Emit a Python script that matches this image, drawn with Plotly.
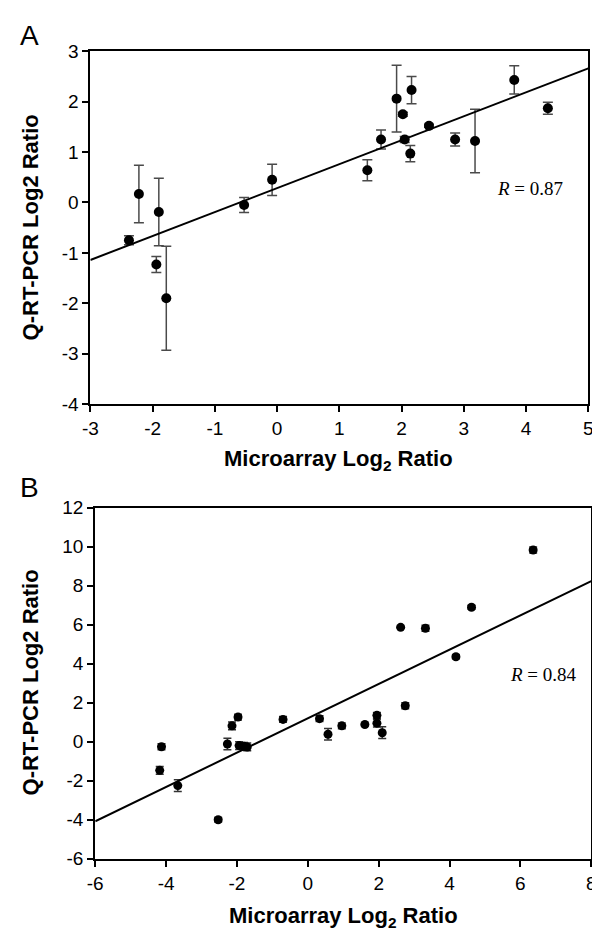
import plotly.graph_objects as go

# ---------------- Panel A data ----------------
a_x = [-2.38, -2.22, -1.94, -1.90, -1.78, -0.53, -0.08, 1.45, 1.67, 1.92, 2.02, 2.05,
       2.16, 2.14, 2.44, 2.86, 3.18, 3.81, 4.35]
a_y = [-0.75, 0.17, -1.23, -0.19, -1.90, -0.05, 0.45, 0.64, 1.25, 2.06, 1.75, 1.25,
       2.23, 0.97, 1.52, 1.25, 1.22, 2.43, 1.87]
a_err = [0.09, 0.57, 0.16, 0.67, 1.03, 0.15, 0.31, 0.21, 0.19, 0.66, 0.04, 0.06,
         0.27, 0.16, 0.03, 0.13, 0.63, 0.28, 0.12]
a_slope, a_intercept = 0.475, 0.285
a_r_text = "<i>R</i> = 0.87"
a_xticks = [-3, -2, -1, 0, 1, 2, 3, 4, 5]
a_yticks = [-4, -3, -2, -1, 0, 1, 2, 3]

# ---------------- Panel B data ----------------
b_x = [-4.13, -4.18, -3.67, -2.53, -2.27, -2.14, -1.97, -1.94, -1.80, -1.71, -0.70,
       0.33, 0.57, 0.96, 1.61, 1.95, 1.95, 2.10, 2.75, 2.62, 3.32, 4.18, 4.62, 6.36]
b_y = [-0.26, -1.47, -2.25, -4.00, -0.12, 0.81, 1.26, -0.20, -0.24, -0.27, 1.14,
       1.18, 0.38, 0.81, 0.88, 1.35, 0.95, 0.46, 1.84, 5.86, 5.81, 4.35, 6.89, 9.82]
b_err = [0.15, 0.2, 0.3, 0.12, 0.3, 0.2, 0.15, 0.2, 0.2, 0.2, 0.15,
         0.15, 0.3, 0.15, 0.05, 0.15, 0.2, 0.3, 0.15, 0.05, 0.15, 0.1, 0.1, 0.15]
b_slope, b_intercept = 0.879, 1.196
b_r_text = "<i>R</i> = 0.84"
b_xticks = [-6, -4, -2, 0, 2, 4, 6, 8]
b_yticks = [-6, -4, -2, 0, 2, 4, 6, 8, 10, 12]

a_xrange, a_yrange = [-3, 5], [-4, 3]
b_xrange, b_yrange = [-6, 8], [-6, 12]

W, H = 600, 939
fig = go.Figure()

fig.add_trace(go.Scatter(
    x=a_x, y=a_y, mode="markers", xaxis="x", yaxis="y",
    marker=dict(color="black", size=10),
    error_y=dict(type="data", array=a_err, visible=True, color="#4a4a4a", thickness=1.5, width=5),
    showlegend=False))
fig.add_trace(go.Scatter(
    x=a_xrange, y=[a_slope * v + a_intercept for v in a_xrange], mode="lines",
    xaxis="x", yaxis="y", line=dict(color="black", width=2), showlegend=False))

fig.add_trace(go.Scatter(
    x=b_x, y=b_y, mode="markers", xaxis="x2", yaxis="y2",
    marker=dict(color="black", size=9),
    error_y=dict(type="data", array=b_err, visible=True, color="#333333", thickness=1.5, width=4),
    showlegend=False))
fig.add_trace(go.Scatter(
    x=b_xrange, y=[b_slope * v + b_intercept for v in b_xrange], mode="lines",
    xaxis="x2", yaxis="y2", line=dict(color="black", width=2), showlegend=False))

tickfont = dict(family="Liberation Sans, Arial, sans-serif", size=19, color="black")
axis_common = dict(showgrid=False, zeroline=False, showline=True, linecolor="black",
                   linewidth=2, mirror=True, ticks="outside", ticklen=6, tickwidth=1.5,
                   tickcolor="black", tickfont=tickfont, fixedrange=True,
                   ticklabeloverflow="allow")


def ticks(vals):
    return dict(tickmode="array", tickvals=vals, ticktext=[str(v) for v in vals])


fig.update_layout(
    width=W, height=H, margin=dict(l=0, r=0, t=0, b=0),
    paper_bgcolor="white", plot_bgcolor="white",
    xaxis=dict(domain=[76 / W, 585 / W], range=a_xrange, anchor="y", **ticks(a_xticks), **axis_common),
    yaxis=dict(domain=[1 - 395 / H, 1 - 34 / H], range=a_yrange, anchor="x", **ticks(a_yticks), **axis_common),
    xaxis2=dict(domain=[81 / W, 588 / W], range=b_xrange, anchor="y2", **ticks(b_xticks), **axis_common),
    yaxis2=dict(domain=[1 - 860 / H, 1 - 500.7 / H], range=b_yrange, anchor="x2", **ticks(b_yticks), **axis_common),
)

titlefont = dict(family="Liberation Sans, Arial, sans-serif", size=22, color="black")
annots = [
    dict(text="<b>Microarray Log<sub>2</sub> Ratio</b>", x=330 / W, y=1 - 452 / H,
         xref="paper", yref="paper", showarrow=False, font=titlefont, xanchor="center", yanchor="middle"),
    dict(text="<b>Microarray Log<sub>2</sub> Ratio</b>", x=335 / W, y=1 - 920 / H,
         xref="paper", yref="paper", showarrow=False, font=titlefont, xanchor="center", yanchor="middle"),
    dict(text="<b>Q-RT-PCR Log2 Ratio</b>", x=15 / W, y=1 - 214.5 / H, textangle=-90,
         xref="paper", yref="paper", showarrow=False, font=titlefont, xanchor="center", yanchor="middle"),
    dict(text="<b>Q-RT-PCR Log2 Ratio</b>", x=15 / W, y=1 - 680 / H, textangle=-90,
         xref="paper", yref="paper", showarrow=False, font=titlefont, xanchor="center", yanchor="middle"),
    dict(text="A", x=2 / W, y=1 - 18 / H, xref="paper", yref="paper", showarrow=False,
         font=dict(family="Liberation Sans, Arial, sans-serif", size=28, color="black"),
         xanchor="left", yanchor="middle"),
    dict(text="B", x=2 / W, y=1 - 480 / H, xref="paper", yref="paper", showarrow=False,
         font=dict(family="Liberation Sans, Arial, sans-serif", size=28, color="black"),
         xanchor="left", yanchor="middle"),
    dict(text=a_r_text, x=3.5, y=0.27, xref="x", yref="y", showarrow=False,
         font=dict(family="Liberation Serif, Times New Roman, serif", size=19, color="black"),
         xanchor="left", yanchor="middle"),
    dict(text=b_r_text, x=5.64, y=3.43, xref="x2", yref="y2", showarrow=False,
         font=dict(family="Liberation Serif, Times New Roman, serif", size=19, color="black"),
         xanchor="left", yanchor="middle"),
]
fig.update_layout(annotations=annots)

fig.write_html("out.html")
